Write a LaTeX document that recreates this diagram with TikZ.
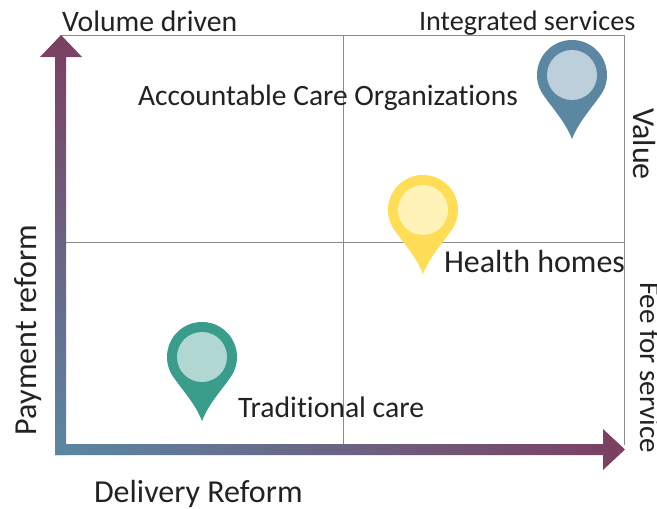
\documentclass[tikz,border=0pt]{standalone}
\usepackage{fontspec}
\setmainfont[Ligatures=NoCommon]{Carlito}
\definecolor{plum}{HTML}{7B3F61}
\definecolor{steel}{HTML}{5B87A3}
\definecolor{gridc}{HTML}{8A8A8A}
\definecolor{inkc}{HTML}{222222}
\tikzset{
  x=1pt,y=-1pt,
  lab/.style={font=\fontsize{#1}{#1}\selectfont,text=inkc,anchor=base west,inner sep=0pt,outer sep=0pt},
  gridl/.style={draw=gridc,line width=0.9pt},
  pin/.pic={
    \fill[pic actions] (-30,18) arc[start angle=211,end angle=-31,radius=35,y radius=-35]
      .. controls (20,33) and (7,46) .. (0,64) .. controls (-7,46) and (-20,33) .. (-30,18) -- cycle;
  },
}
\begin{document}
\begin{tikzpicture}
\useasboundingbox (0,0) rectangle (657,509);
\clip (0,0) rectangle (657,509);
\fill[white] (0,0) rectangle (657,509);
% grid
\draw[gridl] (60,35.5) -- (624.5,35.5) -- (624.5,445);
\draw[gridl] (343,35.5) -- (343,445);
\draw[gridl] (60,242) -- (624.5,242);
% axes
\shade[top color=plum,bottom color=steel,shading angle=0]
  (61,35) -- (82,57) -- (66,57) -- (66,455) -- (55,455) -- (55,57) -- (40,57) -- cycle;
\shade[left color=steel,right color=plum]
  (55,444) -- (603,444) -- (603,429) -- (625,449.5) -- (603,470) -- (603,455) -- (55,455) -- cycle;
% pins
\pic[fill={rgb,255:red,91;green,135;blue,163}] at (572,75) {pin};
\fill[fill={rgb,255:red,189;green,207;blue,218}] (572,75) circle[radius=25];
\pic[fill={rgb,255:red,255;green,221;blue,87}] at (423,210) {pin};
\fill[fill={rgb,255:red,255;green,243;blue,184}] (423,210) circle[radius=25];
\pic[fill={rgb,255:red,58;green,156;blue,138}] at (202,357) {pin};
\fill[fill={rgb,255:red,176;green,215;blue,209}] (202,357) circle[radius=25];
% labels
\node[lab=29.7] (vol) at (62,31) {Volume driven};
\node[lab=28.2] (int) at (419,30) {Integrated services};
\node[lab=29.5] (aco) at (138,105) {Accountable Care Organizations};
\node[lab=32] (hh) at (444,272) {Health homes};
\node[lab=29.7] (tc) at (238,417) {Traditional care};
\node[lab=32] (dr) at (94,502.5) {Delivery Reform};
\node[lab=32,rotate=90] (pr) at (36,435) {Payment reform};
\node[lab=32,rotate=-90] (val) at (633.5,108) {Value};
\node[lab=29,rotate=-90] (ffs) at (640,282) {Fee for service};
\end{tikzpicture}
\end{document}
